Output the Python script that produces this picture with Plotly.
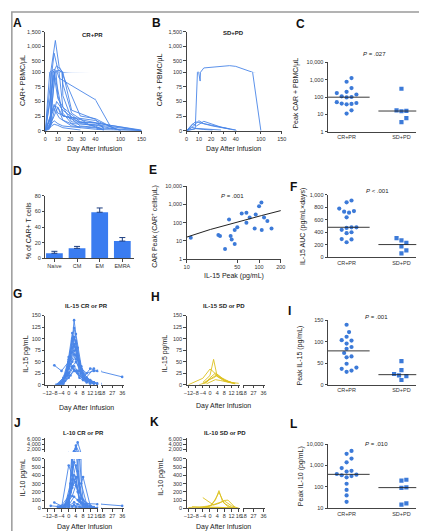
import numpy as np
import plotly.graph_objects as go

W, H = 427, 531
FONT = "Liberation Sans, Arial, sans-serif"
TFONT = "Liberation Sans Narrow, Arial Narrow, Liberation Sans, sans-serif"
AXC = "#444444"
BLUE_LINE = "#4a86e8"
BLUE_DOT = "#3c7ad8"
BAR_COL = "#3a7cf0"
YEL = "#dcc11e"

# ---------------- data ----------------
# A: CAR+ PBMC/uL over time, CR+PR patients
A_days = [[0, 4, 8, 11, 14, 21, 28, 60], [0, 5, 7, 10, 14, 21, 35, 100], [0, 4, 7, 9, 14, 21, 60],
          [0, 7, 10, 14, 28, 150], [0, 3, 7, 10, 14, 28, 90], [0, 7, 10, 14, 21, 150], [0, 4, 8, 11, 80],
          [0, 7, 10, 14, 60], [0, 7, 10, 21, 150], [0, 5, 9, 14, 28, 60], [0, 7, 10, 21, 42, 150],
          [0, 7, 10, 14, 100], [0, 6, 10, 14, 28], [0, 7, 11, 21, 60], [0, 7, 10, 14, 42, 150], [0, 7, 10, 14, 28]]
A_vals = [[0, 20, 1200, 300, 60, 20, 8, 2], [0, 10, 760, 200, 80, 30, 10, 1], [0, 5, 150, 330, 100, 35, 3],
          [0, 200, 120, 40, 15, 0], [0, 2, 80, 170, 95, 25, 2], [0, 140, 60, 30, 12, 0], [0, 8, 110, 90, 2],
          [0, 100, 70, 25, 5], [0, 95, 55, 15, 1], [0, 15, 50, 35, 12, 1], [0, 45, 30, 20, 5, 0],
          [0, 42, 40, 25, 0], [0, 20, 40, 18, 5], [0, 38, 22, 8, 1], [0, 17, 12, 8, 2, 0], [0, 11, 9, 5, 1]]
# B: SD+PD patients
B_days = [[0, 7, 9, 11, 14, 35, 100], [0, 4, 10, 14, 35], [0, 5, 8, 14, 28, 40], [0, 7, 10, 21, 42],
          [0, 4, 7, 14, 28], [0, 3, 7, 14, 21]]
B_vals = [[0, 3, 110, 85, 250, 330, 0], [0, 5, 17, 12, 3], [0, 12, 8, 16, 6, 1], [0, 15, 14, 8, 0],
          [0, 6, 4, 3, 1], [0, 2, 3.5, 2, 1]]
# C: peak CAR+ PBMC/uL
C_cr = [1250, 760, 330, 200, 170, 140, 110, 100, 95, 50, 45, 42, 40, 38, 17, 11]
C_sd = [300, 17, 16, 15, 6, 3.5]
# D: memory phenotype
D_cats = ["Naive", "CM", "EM", "EMRA"]
D_vals = [6.3, 12.6, 59, 22]
D_err = [2.5, 2.5, 5.5, 4.5]
# E: IL-15 peak vs CAR peak
E_il15 = [11.4, 27.4, 28.9, 33.9, 41.9, 46.1, 46.1, 38.5, 40.5, 50.1, 57.6, 66.9, 66.9, 74.2, 87.0, 89.9,
          100, 107.8, 108.9, 117.2, 130.3, 148.7]
E_car = [15, 21, 18.5, 3.6, 12, 39, 6.8, 149, 18.5, 55, 315, 98, 340, 191, 48, 278, 790, 1240, 39, 191, 121, 48]
E_fit_intercept = -7.0
E_fit_slope = 2.3
# F: IL-15 AUC
F_cr = [910, 880, 780, 740, 730, 715, 640, 480, 480, 470, 440, 400, 385, 290, 285, 240]
F_sd = [305, 270, 230, 175, 110, 60]
# G: IL-15 CR or PR
G_days = [[-5, -3, 0, 2, 3, 4, 7, 10, 14], [-7, -3, 0, 2, 3, 5, 7, 10, 14], [-4, -2, 0, 2, 4, 6, 8, 12],
          [-8, -4, 0, 1, 3, 5, 8, 12, 16], [-3, 0, 2, 3, 4, 6, 9, 14], [-6, -2, 0, 2, 4, 7, 10, 14, 36],
          [-5, -1, 1, 3, 4, 6, 8, 12], [-4, 0, 2, 3, 5, 7, 10, 16], [-3, 0, 1, 3, 5, 8, 12],
          [-6, -2, 1, 3, 4, 6, 9, 14], [-5, -1, 2, 4, 6, 8, 12], [-4, 0, 2, 4, 7, 10, 14],
          [-3, 0, 3, 5, 8, 12, 16], [-2, 0, 2, 4, 6, 10], [-4, 0, 3, 5, 8, 14], [-3, 1, 3, 6, 10, 16]]
G_vals = [[2, 10, 40, 95, 140, 110, 40, 15, 5], [0, 15, 55, 100, 123, 80, 30, 10, 3], [5, 20, 60, 112, 90, 45, 20, 8],
          [42, 30, 50, 70, 104, 60, 25, 10, 3], [10, 45, 80, 103, 95, 50, 15, 5], [0, 20, 50, 96, 80, 35, 25, 30, 17],
          [3, 25, 60, 88, 75, 30, 10, 2], [5, 35, 70, 84, 60, 25, 10, 2], [8, 40, 55, 74, 55, 20, 5],
          [1, 15, 45, 66, 55, 30, 12, 35], [2, 20, 50, 64, 40, 15, 3], [3, 25, 40, 49, 30, 12, 3],
          [2, 20, 40, 30, 15, 35, 30], [8, 25, 37, 30, 15, 5], [0, 15, 33, 25, 12, 2], [2, 20, 30, 20, 8, 1]]
# H: IL-15 SD or PD
H_days = [[-4, 0, 2, 4, 8, 14], [-12, -4, 0, 2, 4, 8, 12], [-3, 0, 3, 5, 8, 14], [-6, -2, 0, 4, 6, 10, 16],
          [-4, -1, 2, 4, 8, 12], [-2, 1, 3, 6, 10, 14]]
H_vals = [[5, 20, 55, 18, 8, 3], [0, 14, 34, 28, 18, 10, 5], [2, 15, 25, 20, 10, 2], [0, 5, 12, 22, 15, 6, 3],
          [3, 10, 15, 20, 12, 4], [2, 8, 11, 9, 5, 2]]
# I: peak IL-15
I_cr = [140, 123, 112, 104, 103, 96, 88, 84, 74, 66, 64, 49, 40, 37, 33, 30]
I_sd = [55, 34, 25, 22, 20, 11]
# J: IL-10 CR or PR
J_days = [[-4, 0, 2, 4, 5, 7, 10, 14], [-3, 0, 3, 4, 6, 8, 12], [-2, 0, 2, 4, 6, 10], [-6, -2, 1, 3, 5, 7, 12],
          [-4, 0, 2, 4, 6, 8, 14], [-3, 0, 3, 5, 7, 10], [-8, -4, 0, 2, 4, 6, 8, 12], [-3, 1, 3, 4, 6, 10, 16],
          [-5, 0, 2, 4, 6, 9, 14], [-2, 0, 3, 5, 7, 12], [-4, 0, 2, 4, 6, 10], [-6, -1, 2, 4, 8, 14],
          [-3, 0, 3, 5, 8, 16, 36], [-4, 0, 3, 5, 8, 12], [-10, -5, 0, 3, 6, 10], [-3, 0, 2, 4, 7, 12]]
J_vals = [[10, 60, 300, 2500, 4800, 300, 50, 10], [5, 80, 1000, 3500, 600, 100, 20], [20, 150, 500, 2100, 200, 30],
          [0, 40, 300, 1400, 380, 60, 10], [5, 520, 400, 760, 300, 50, 10], [10, 100, 560, 450, 120, 20],
          [70, 30, 150, 350, 520, 200, 380, 30], [10, 200, 400, 380, 100, 30, 5], [10, 50, 250, 370, 90, 20, 5],
          [10, 80, 350, 200, 60, 10], [0, 120, 280, 320, 80, 20], [20, 60, 150, 280, 100, 15],
          [10, 40, 140, 100, 60, 50, 30], [5, 30, 72, 50, 30, 10], [30, 20, 25, 40, 20, 5], [0, 10, 20, 15, 8, 2]]
# K: IL-10 SD or PD
K_days = [[-4, 0, 3, 5, 7, 10, 14], [-3, 1, 4, 5, 8, 12], [-4, -1, 2, 5, 8, 10, 14], [-12, -6, 0, 4, 8, 12, 16],
          [-8, -2, 2, 5, 9, 14], [-10, -4, 0, 4, 8, 16]]
K_vals = [[5, 30, 100, 215, 80, 20, 5], [10, 40, 150, 195, 60, 10], [130, 80, 40, 60, 95, 100, 10],
          [10, 15, 30, 60, 90, 30, 0], [5, 10, 17, 12, 8, 2], [20, 10, 15, 12, 5, 0]]
# L: peak IL-10
L_cr = [4800, 3500, 2100, 1400, 760, 560, 520, 400, 370, 350, 320, 280, 140, 72, 40, 20]
L_sd = [215, 195, 95, 90, 17, 15]

GROUPS = ["CR+PR", "SD+PD"]

# ---------------- helpers ----------------
layout = {}
traces = []
annots = []
counter = [0]

def dx(a, b):
    return [a / W, b / W]

def dy(top, bot):
    return [1 - bot / H, 1 - top / H]

def base_axis():
    return dict(showline=True, linecolor=AXC, linewidth=0.8, ticks="outside", ticklen=2.5, tickwidth=0.8,
                tickcolor=AXC, showgrid=False, zeroline=False, fixedrange=True, tickangle=0,
                tickfont=dict(family=TFONT, size=5.5, color="#333"))

def new_axes(xpx, ypx, xr, yr, xtype="linear", ytype="linear", xticks=None, yticks=None,
             xshow=True, yshow=True):
    counter[0] += 1
    n = counter[0]
    s = "" if n == 1 else str(n)
    xa = base_axis()
    ya = base_axis()
    xa.update(domain=dx(*xpx), range=xr, type=xtype, anchor="y" + s)
    ya.update(domain=dy(*ypx), range=yr, type=ytype, anchor="x" + s)
    if xticks is not None:
        xa.update(tickmode="array", tickvals=xticks[0], ticktext=xticks[1])
    if yticks is not None:
        ya.update(tickmode="array", tickvals=yticks[0], ticktext=yticks[1])
    if not xshow:
        xa.update(visible=False)
    if not yshow:
        ya.update(visible=False)
    layout["xaxis" + s] = xa
    layout["yaxis" + s] = ya
    return "x" + s, "y" + s

def ann(x, y, text, size=7, bold=False, angle=0, xanchor="center", yanchor="middle", color="#222", family=FONT):
    if bold:
        text = "<b>" + text + "</b>"
    annots.append(dict(x=x / W, y=1 - y / H, xref="paper", yref="paper", text=text, showarrow=False,
                       textangle=angle, xanchor=xanchor, yanchor=yanchor,
                       font=dict(family=family, size=size, color=color)))

def fmt(v):
    return f"{v:,}"

def broken_panel(xsegs, ysegs, days, vals, color, markers):
    # xsegs / ysegs: list of (range, pixel span, tickvals); first y seg is the lower one
    for i, (xr, xpx, xtv) in enumerate(xsegs):
        for j, (yr, ypx, ytv) in enumerate(ysegs):
            xa, ya = new_axes(xpx, ypx, xr, yr,
                              xticks=(xtv, [str(t).replace("-", "\u2212") for t in xtv]),
                              yticks=(ytv, [fmt(t) for t in ytv]),
                              xshow=(j == 0), yshow=(i == 0))
            for d, v in zip(days, vals):
                traces.append(go.Scatter(
                    x=d, y=v, xaxis=xa, yaxis=ya, mode="lines+markers" if markers else "lines",
                    line=dict(color=color, width=0.9), marker=dict(size=2.6, color=color),
                    showlegend=False, hoverinfo="skip"))

def swarm(vals, center, ypx_unit, xpx_unit, log, diam=5.0):
    y = np.log10(np.array(vals, float)) if log else np.array(vals, float)
    ypx = y * ypx_unit
    order = np.argsort(ypx)
    placed = []
    xs = np.zeros(len(vals))
    cands = [0.0]
    for m in range(1, 30):
        cands += [m * diam * 0.5, -m * diam * 0.5]
    for i in order:
        for c in cands:
            if all((c - px) ** 2 + (ypx[i] - py) ** 2 >= diam ** 2 for px, py in placed):
                placed.append((c, ypx[i]))
                xs[i] = center + c / xpx_unit
                break
    return xs

def dot_panel(xpx, ypx, yr, ytype, yticks, cr, sd, ptext, p_xy, log):
    xr = [0.66, 2.27]
    xa, ya = new_axes(xpx, ypx, xr, yr, ytype=ytype, xticks=([1, 2], GROUPS), yticks=yticks)
    layout["xaxis" + xa[1:]].update(ticks="")
    xunit = (xpx[1] - xpx[0]) / (xr[1] - xr[0])
    yunit = (ypx[1] - ypx[0]) / (yr[1] - yr[0])
    for k, (vals, sym) in enumerate([(cr, "circle"), (sd, "square")]):
        c = k + 1
        xs = swarm(vals, c, yunit, xunit, log)
        traces.append(go.Scatter(x=xs, y=vals, xaxis=xa, yaxis=ya, mode="markers",
                                 marker=dict(symbol=sym, size=4.2, color=BLUE_DOT, line=dict(width=0)),
                                 showlegend=False, hoverinfo="skip"))
        med = float(np.median(vals))
        traces.append(go.Scatter(x=[c - 0.42, c + 0.42], y=[med, med], xaxis=xa, yaxis=ya, mode="lines",
                                 line=dict(color="#222", width=0.9), showlegend=False, hoverinfo="skip"))
    ann(p_xy[0], p_xy[1], ptext, size=6)

# ---------------- panels ----------------
# A
broken_panel([([0, 40], (35, 86), [0, 10, 20, 30, 40]), ([40, 150], (86, 133), [100, 150])],
             [([0, 100], (62, 121), [0, 25, 50, 75, 100]), ([100, 1500], (21, 62), [500, 1000, 1500])],
             A_days, A_vals, BLUE_LINE, False)
# B
broken_panel([([0, 40], (179, 229), [0, 10, 20, 30, 40]), ([40, 150], (229, 276), [100, 150])],
             [([0, 100], (62, 121), [0, 25, 50, 75, 100]), ([100, 1500], (21, 62), [500, 1000, 1500])],
             B_days, B_vals, BLUE_LINE, False)
# C
dot_panel((323, 413), (52, 122), [0, 4], "log",
          ([1, 10, 100, 1000, 10000], ["1", "10", "100", "1,000", "10,000"]),
          C_cr, C_sd, "<i>P</i> = .027", (370, 43), True)
# D
xa, ya = new_axes((35, 125), (187, 250), [-0.4, 3.5], [0, 80], xtype="category",
                  yticks=([0, 20, 40, 60, 80], ["0", "20", "40", "60", "80"]))
traces.append(go.Bar(x=D_cats, y=D_vals, xaxis=xa, yaxis=ya, width=0.74, marker=dict(color=BAR_COL, line=dict(width=0)),
                     error_y=dict(type="data", array=D_err, arrayminus=[0] * len(D_err), symmetric=False,
                                  color="#1f3f80", thickness=1, width=3),
                     showlegend=False, hoverinfo="skip"))
# E
xa, ya = new_axes((179, 275), (177, 251), [1, np.log10(200)], [0, 4], xtype="log", ytype="log",
                  xticks=([10, 50, 100, 200], ["10", "50", "100", "200"]),
                  yticks=([1, 10, 100, 1000, 10000], ["1", "10", "100", "1,000", "10,000"]))
traces.append(go.Scatter(x=E_il15, y=E_car, xaxis=xa, yaxis=ya, mode="markers",
                         marker=dict(size=4, color=BLUE_DOT), showlegend=False, hoverinfo="skip"))
fx = np.geomspace(10, 200, 60)
traces.append(go.Scatter(x=fx, y=E_fit_intercept + E_fit_slope * fx, xaxis=xa, yaxis=ya, mode="lines",
                         line=dict(color="#222", width=1), showlegend=False, hoverinfo="skip"))
ann(226, 187, "<i>P</i> = .001", size=6)
# F
dot_panel((323, 413), (186, 249), [0, 1000], "linear",
          ([0, 200, 400, 600, 800, 1000], ["0", "200", "400", "600", "800", "1,000"]),
          F_cr, F_sd, "<i>P</i> < .001", (373, 182), False)
# G, H
GX = [-12, -8, -4, 0, 4, 8, 12, 16]
GX2 = [18, 27, 36]
broken_panel([([-13, 16.5], (35, 89), GX), ([17, 37.5], (92, 115), GX2)],
             [([0, 150], (308, 378), [0, 25, 50, 75, 100, 125, 150])],
             G_days, G_vals, BLUE_LINE, True)
broken_panel([([-13, 16.5], (179, 233), GX), ([17, 37.5], (236, 259), GX2)],
             [([0, 150], (308, 378), [0, 25, 50, 75, 100, 125, 150])],
             H_days, H_vals, YEL, False)
# I
dot_panel((323, 413), (313, 378), [0, 150], "linear",
          ([0, 50, 100, 150], ["0", "50", "100", "150"]),
          I_cr, I_sd, "<i>P</i> = .001", (372, 310), False)
# J, K
broken_panel([([-13, 16.5], (35, 89), GX), ([17, 37.5], (92, 115), GX2)],
             [([0, 600], (453, 503), [0, 100, 200, 300, 400, 500, 600]),
              ([1000, 6500], (432, 446), [2000, 4000, 6000])],
             J_days, J_vals, BLUE_LINE, True)
broken_panel([([-13, 16.5], (179, 233), GX), ([17, 37.5], (236, 259), GX2)],
             [([0, 600], (453, 503), [0, 100, 200, 300, 400, 500, 600]),
              ([1000, 6500], (432, 446), [2000, 4000, 6000])],
             K_days, K_vals, YEL, False)
# L
dot_panel((323, 413), (438, 503), [1, 4], "log",
          ([10, 100, 1000, 10000], ["10", "100", "1,000", "10,000"]),
          L_cr, L_sd, "<i>P</i> = .010", (372, 438), True)

# ---------------- text ----------------
for t, x, y in [("A", 7, 12), ("B", 148, 12), ("C", 295, 13), ("D", 7, 162), ("E", 145, 161), ("F", 288, 178),
                ("G", 7, 286), ("H", 147, 289), ("I", 284, 303), ("J", 7, 417), ("K", 146, 416), ("L", 288, 418)]:
    ann(x, y, t, size=12, bold=True, color="#111")

for t, x, y in [("CR+PR", 83, 24), ("SD+PD", 227, 22), ("IL-15 CR or PR", 77, 298), ("IL-15 SD or PD", 217, 298),
                ("L-10 CR or PR", 74, 427), ("IL-10 SD or PD", 218, 427)]:
    ann(x, y, t, size=6, bold=True)

for t, x, y in [("Day After Infusion", 85, 140), ("Day After Infusion", 227, 140), ("IL-15 Peak (pg/mL)", 227, 268),
                ("Day After Infusion", 77, 402), ("Day After Infusion", 217, 400), ("Day After Infusion", 75, 522),
                ("Day After Infusion", 217, 522)]:
    ann(x, y, t, size=7)

for t, x, y in [("CAR+ PBMC/\u00b5L", 12, 70), ("CAR + PBMC/\u00b5L", 152, 70), ("Peak CAR + PBMC/\u00b5L", 291, 83),
                ("% of CAR+ T cells", 18, 222), ("CAR Peak (CAR<sup>+</sup> cells/\u00b5L)", 146, 218),
                ("IL-15 AUC (pg/mL\u00d7days)", 297, 218), ("IL-15 pg/mL", 15, 347), ("IL-15 pg/mL", 157, 347),
                ("Peak IL-15 (pg/mL)", 295, 348), ("IL-10 pg/mL", 12, 472), ("IL-10 pg/mL", 153, 472),
                ("Peak IL-10 (pg/mL)", 295, 470)]:
    ann(x, y, t, size=7, angle=-90)

fig = go.Figure(traces)
fig.update_layout(**layout)
fig.update_layout(width=W, height=H, margin=dict(l=0, r=0, t=0, b=0), paper_bgcolor="white",
                  plot_bgcolor="rgba(0,0,0,0)", annotations=annots, showlegend=False,
                  shapes=[dict(type="rect", xref="paper", yref="paper", x0=0.002, y0=0.002, x1=0.997, y1=0.998,
                               line=dict(color="#9a9a9a", width=1.5))])
fig.write_html("out.html")
